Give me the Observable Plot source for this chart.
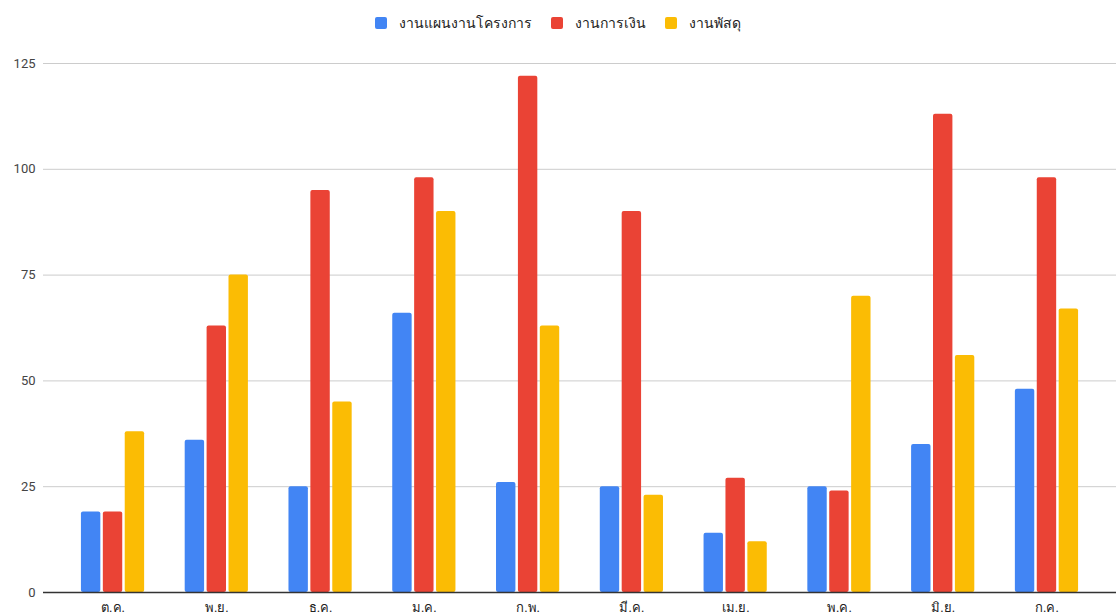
<!DOCTYPE html>
<html>
<head>
<meta charset="utf-8">
<script src="https://cdn.jsdelivr.net/npm/d3@7"></script>
<script src="https://cdn.jsdelivr.net/npm/@observablehq/plot@0.6"></script>
<style>
  body { margin: 0; background: #fff; font-family: Roboto, "Noto Sans", sans-serif; }
  #legend { height: 40px; box-sizing: border-box; padding-top: 6px; display: flex; justify-content: center; gap: 19px; font-size: 14px; color: #222; }
  .item { display: flex; align-items: center; line-height: 16px; }
  .swatch { width: 12px; height: 12px; border-radius: 2px; margin-right: 12px; }
</style>
</head>
<body>
<div id="legend"></div>
<div id="chart"></div>
<script>
const months = ["ต.ค.", "พ.ย.", "ธ.ค.", "ม.ค.", "ก.พ.", "มี.ค.", "เม.ย.", "พ.ค.", "มิ.ย.", "ก.ค."];
const seriesNames = ["งานแผนงานโครงการ", "งานการเงิน", "งานพัสดุ"];
const planValues = [19, 36, 25, 66, 26, 25, 14, 25, 35, 48];
const financeValues = [19, 63, 95, 98, 122, 90, 27, 24, 113, 98];
const supplyValues = [38, 75, 45, 90, 63, 23, 12, 70, 56, 67];
const yTicks = [0, 25, 50, 75, 100, 125];
const colors = ["#4285F4", "#EA4335", "#FBBC04"];

const seriesValues = [planValues, financeValues, supplyValues];

// legend row
const legend = d3.select("#legend");
seriesNames.forEach((name, i) => {
  const item = legend.append("div").attr("class", "item");
  item.append("div").attr("class", "swatch").style("background", colors[i]);
  item.append("span").text(name);
});

// layout of the month bands
const width = 1116, marginLeft = 43, marginRight = 0;
const paddingOuter = 0.17;
const bandWidth = (width - marginLeft - marginRight) / (months.length + 2 * paddingOuter);
const barWidth = 19.4;
const pitch = 21.9;
const inset = (bandWidth - barWidth) / 2;

// one bar mark per series, shifted within each month band
const bars = seriesValues.map((vals, i) => {
  const rows = months.map((m, j) => ({month: m, value: vals[j]}));
  return Plot.barY(rows, {
    x: "month",
    y: "value",
    fill: colors[i],
    dx: (i - 1) * pitch,
    insetLeft: inset,
    insetRight: inset,
    rx: 2
  });
});

const chart = Plot.plot({
  width,
  height: 576,
  marginTop: 23,
  marginBottom: 24,
  marginLeft,
  marginRight,
  style: {fontFamily: "Roboto, 'Noto Sans', sans-serif", fontSize: "13px", color: "#444", background: "#fff"},
  x: {domain: months, paddingInner: 0, paddingOuter, round: false, label: null},
  y: {domain: [0, 125], ticks: yTicks, label: null},
  marks: [
    Plot.gridY(yTicks, {stroke: "#ccc", strokeOpacity: 1}),
    ...bars,
    Plot.ruleY([0], {stroke: "#333", strokeWidth: 1.3}),
    Plot.axisX({tickSize: 0, tickPadding: 10, fill: "#222"}),
    Plot.axisY({ticks: yTicks, tickSize: 0, tickPadding: 8, fill: "#444"})
  ]
});
document.getElementById("chart").appendChild(chart);
</script>
</body>
</html>
